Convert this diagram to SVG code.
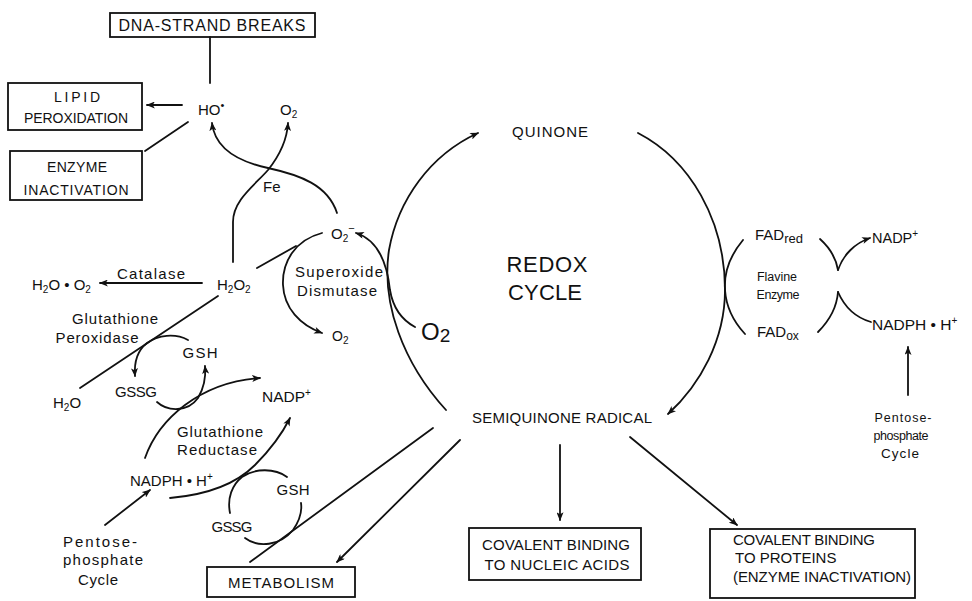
<svg xmlns="http://www.w3.org/2000/svg" width="972" height="601" viewBox="0 0 972 601">
<defs>
<style>
text{font-family:"Liberation Sans","DejaVu Sans",Arial,sans-serif;font-size:15px;fill:#111}
.s14{font-size:14px}
.s13{font-size:12.5px}
.big{font-size:22px}
.box{fill:none;stroke:#111;stroke-width:1.8}
.c{fill:none;stroke:#111;stroke-width:1.8;stroke-linecap:round}
.a{marker-end:url(#ah)}
</style>
<marker id="ah" viewBox="0 0 10 8" refX="9" refY="4" markerWidth="9" markerHeight="7" markerUnits="userSpaceOnUse" orient="auto"><path d="M0,0 L10,4 L0,8 L2.5,4 z" fill="#111"/></marker>
</defs>
<rect width="972" height="601" fill="#fff"/>

<g id="connectors">
<line class="c" x1="210" y1="83" x2="210" y2="37"/>
<line class="c a" x1="182" y1="105" x2="147" y2="105"/>
<line class="c" x1="188" y1="122" x2="145" y2="151"/>
<path class="c a" d="M337,213 C328,185 300,175 268,168 C240,162 215,150 212,123"/>
<path class="c a" d="M233,262 L233,222 C233,200 255,185 268,170 C280,155 287,140 288,123"/>
<line class="c a" x1="202" y1="283" x2="100" y2="283"/>
<line class="c" x1="257" y1="268" x2="296" y2="246"/>
<path class="c a" d="M322,233 C295,240 282,262 283,285 C284,308 300,325 322,333"/>
<path class="c a" d="M415,327 C402,320 393,308 390,290 C387,262 378,240 356,233"/>
<path class="c a" d="M446,410 C403,363 381,303 389,250 C398,200 430,155 478,133"/>
<path class="c a" d="M638,133 C690,160 725,220 725,290 C725,340 700,385 668,414"/>
<path class="c" d="M743,240 C728,258 724,275 725,290 C726,305 732,320 745,334"/>
<path class="c" d="M820,239 C830,248 836,258 838,270"/>
<path class="c a" d="M838,270 C843,255 855,243 870,238"/>
<path class="c" d="M818,332 C830,320 837,305 838,292"/>
<path class="c" d="M838,292 C845,308 857,318 871,322"/>
<line class="c a" x1="908" y1="395" x2="908" y2="347"/>
<line class="c" x1="218" y1="296" x2="80" y2="388"/>
<path class="c a" d="M188,340 C175,333 158,335 147,343 C138,350 134,362 135,376"/>
<path class="c a" d="M157,402 C168,412 188,412 198,398 C204,388 206,378 205,366"/>
<path class="c a" d="M145,458 C152,438 165,420 185,405 C205,390 230,380 260,378"/>
<path class="c a" d="M170,498 C205,495 235,485 255,465 C270,450 283,432 290,418"/>
<path class="c" d="M287,477 C275,468 255,468 242,477 C232,485 227,498 230,513"/>
<path class="c" d="M245,538 C258,548 280,546 293,530 C300,520 302,510 301,503"/>
<line class="c" x1="433" y1="428" x2="250" y2="562"/>
<line class="c a" x1="460" y1="440" x2="337" y2="562"/>
<line class="c a" x1="560" y1="445" x2="560" y2="520"/>
<line class="c a" x1="630" y1="437" x2="737" y2="525"/>
<line class="c a" x1="105" y1="525" x2="150" y2="490"/>
</g>

<g id="dna"><rect class="box" x="110" y="13" width="205" height="24"/><text x="212" y="31" text-anchor="middle" style="font-size:16px" textLength="187" lengthAdjust="spacing">DNA-STRAND BREAKS</text></g>
<g id="lipid"><rect class="box" x="8" y="83" width="134" height="47"/><text class="s14" x="77" y="102" text-anchor="middle" textLength="46" lengthAdjust="spacing">LIPID</text><text class="s14" x="76" y="123" text-anchor="middle" textLength="104" lengthAdjust="spacing">PEROXIDATION</text></g>
<g id="enzyme"><rect class="box" x="10" y="151" width="132" height="49"/><text class="s14" x="77" y="172" text-anchor="middle" textLength="60" lengthAdjust="spacing">ENZYME</text><text class="s14" x="76" y="195" text-anchor="middle" textLength="105" lengthAdjust="spacing">INACTIVATION</text></g>
<g id="ho"><text x="198" y="115">HO<tspan font-size="11" dy="-6">•</tspan></text></g>
<g id="o2top"><text x="280" y="115">O<tspan font-size="10" dy="3">2</tspan></text></g>
<g id="fe"><text x="263" y="192">Fe</text></g>
<g id="superoxide-anion"><text x="331" y="239">O<tspan font-size="10" dy="3">2</tspan><tspan font-size="11" dy="-10">−</tspan></text></g>
<g id="sod"><text x="339" y="277" text-anchor="middle" textLength="88" lengthAdjust="spacing">Superoxide</text><text x="337" y="296" text-anchor="middle" textLength="80" lengthAdjust="spacing">Dismutase</text></g>
<g id="o2small"><text class="s14" x="332" y="341">O<tspan font-size="10" dy="3">2</tspan></text></g>
<g id="o2big"><text x="421" y="340" style="font-size:24px">O<tspan font-size="19" dy="2">2</tspan></text></g>
<g id="quinone"><text x="550" y="137" text-anchor="middle" textLength="76" lengthAdjust="spacing">QUINONE</text></g>
<g id="redox"><text class="big" x="547" y="272" text-anchor="middle" textLength="81" lengthAdjust="spacing">REDOX</text><text class="big" x="545" y="300" text-anchor="middle" textLength="74" lengthAdjust="spacing">CYCLE</text></g>
<g id="semiquinone"><text x="562" y="423" text-anchor="middle" textLength="180" lengthAdjust="spacing">SEMIQUINONE RADICAL</text></g>
<g id="h2o2"><text x="217" y="290">H<tspan font-size="10" dy="3">2</tspan><tspan dy="-3">O</tspan><tspan font-size="10" dy="3">2</tspan></text></g>
<g id="catalase"><text x="151" y="279" text-anchor="middle" textLength="68" lengthAdjust="spacing">Catalase</text></g>
<g id="h2o-o2"><text x="32" y="290">H<tspan font-size="10" dy="3">2</tspan><tspan dy="-3">O • O</tspan><tspan font-size="10" dy="3">2</tspan></text></g>
<g id="gpx"><text x="115" y="324" text-anchor="middle" textLength="86" lengthAdjust="spacing">Glutathione</text><text x="97" y="343" text-anchor="middle" textLength="83" lengthAdjust="spacing">Peroxidase</text></g>
<g id="gsh1"><text x="200" y="358" text-anchor="middle" textLength="35" lengthAdjust="spacing">GSH</text></g>
<g id="gssg1"><text x="136" y="397" text-anchor="middle" textLength="42" lengthAdjust="spacing">GSSG</text></g>
<g id="h2o"><text x="53" y="408">H<tspan font-size="10" dy="3">2</tspan><tspan dy="-3">O</tspan></text></g>
<g id="nadp-left"><text x="262" y="402" style="font-size:15.5px">NADP<tspan font-size="10" dy="-6">+</tspan></text></g>
<g id="gr"><text x="220" y="437" text-anchor="middle" textLength="86" lengthAdjust="spacing">Glutathione</text><text x="217" y="455" text-anchor="middle" textLength="80" lengthAdjust="spacing">Reductase</text></g>
<g id="nadph-left"><text x="130" y="486">NADPH • H<tspan font-size="10" dy="-6">+</tspan></text></g>
<g id="gsh2"><text x="293" y="495" text-anchor="middle" textLength="33" lengthAdjust="spacing">GSH</text></g>
<g id="gssg2"><text x="232" y="532" text-anchor="middle" textLength="41" lengthAdjust="spacing">GSSG</text></g>
<g id="ppc-left"><text x="100" y="547" text-anchor="middle" textLength="74" lengthAdjust="spacing">Pentose-</text><text x="103" y="565" text-anchor="middle" textLength="80" lengthAdjust="spacing">phosphate</text><text x="98" y="585" text-anchor="middle" textLength="40" lengthAdjust="spacing">Cycle</text></g>
<g id="metabolism"><rect class="box" x="207" y="567" width="148" height="30"/><text x="281" y="588" text-anchor="middle" textLength="106" lengthAdjust="spacing">METABOLISM</text></g>
<g id="nucleic"><rect class="box" x="469" y="528" width="172" height="52"/><text x="556" y="550" text-anchor="middle" textLength="148" lengthAdjust="spacing">COVALENT BINDING</text><text x="557" y="570" text-anchor="middle" textLength="145" lengthAdjust="spacing">TO NUCLEIC ACIDS</text></g>
<g id="proteins"><rect class="box" x="710" y="529" width="205" height="69"/><text x="733" y="545" textLength="142" lengthAdjust="spacing">COVALENT BINDING</text><text x="735" y="563">TO PROTEINS</text><text x="733" y="582" textLength="178" lengthAdjust="spacing">(ENZYME INACTIVATION)</text></g>
<g id="fadred"><text x="755" y="240">FAD<tspan font-size="13" dy="3">red</tspan></text></g>
<g id="flavine"><text class="s13" x="777" y="281" text-anchor="middle" textLength="40" lengthAdjust="spacing">Flavine</text><text class="s13" x="778" y="299" text-anchor="middle" textLength="43" lengthAdjust="spacing">Enzyme</text></g>
<g id="fadox"><text x="757" y="337">FAD<tspan font-size="12" dy="3">ox</tspan></text></g>
<g id="nadp-right"><text x="872" y="243" style="font-size:14.5px">NADP<tspan font-size="10" dy="-6">+</tspan></text></g>
<g id="nadph-right"><text x="872" y="330" style="font-size:15.5px">NADPH • H<tspan font-size="10" dy="-6">+</tspan></text></g>
<g id="ppc-right"><text class="s13" x="903" y="422" text-anchor="middle" textLength="57" lengthAdjust="spacing">Pentose-</text><text class="s13" x="901" y="440" text-anchor="middle" textLength="55" lengthAdjust="spacing">phosphate</text><text x="900" y="458" text-anchor="middle" style="font-size:13.5px" textLength="38" lengthAdjust="spacing">Cycle</text></g>
</svg>
